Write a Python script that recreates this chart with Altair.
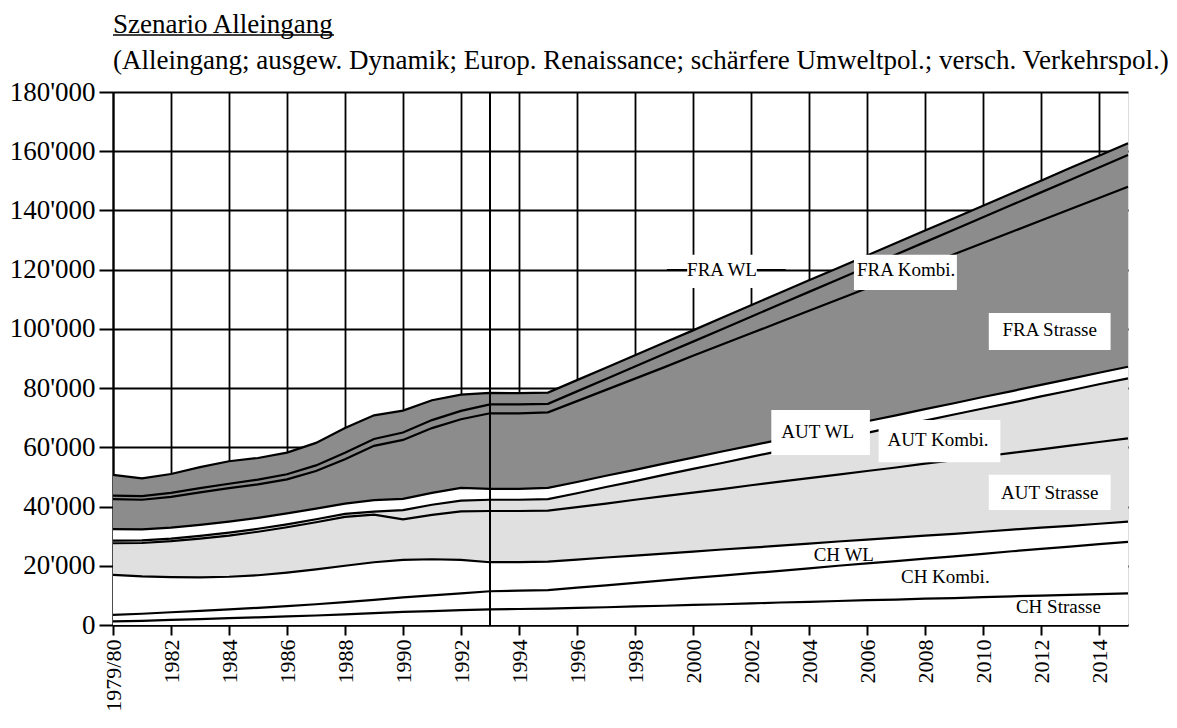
import altair as alt
import pandas as pd

years = list(range(1980, 2016))
series_names = ["CH Strasse", "CH Kombi.", "CH WL", "AUT Strasse", "AUT Kombi.",
                "AUT WL", "FRA Strasse", "FRA Kombi.", "FRA WL"]

# values in thousand tonnes, 1979/80 ... 2015
ch_strasse = [1.2, 1.4, 1.7, 2.0, 2.3, 2.6, 2.9, 3.2, 3.6, 4.0, 4.4, 4.7, 5.0, 5.3, 5.4, 5.5,
              5.8, 6.0, 6.3, 6.5, 6.8, 7.0, 7.3, 7.6, 7.8, 8.1, 8.4, 8.6, 8.9, 9.1, 9.4, 9.7,
              9.9, 10.2, 10.4, 10.7]
ch_kombi = [2.2, 2.4, 2.6, 2.8, 3.0, 3.2, 3.5, 3.8, 4.1, 4.5, 4.9, 5.3, 5.7, 6.1, 6.2, 6.3,
            6.8, 7.4, 7.9, 8.6, 9.1, 9.7, 10.2, 10.7, 11.3, 11.9, 12.4, 13.0, 13.5, 14.1, 14.6,
            15.2, 15.8, 16.3, 16.9, 17.4]
ch_wl = [13.5, 12.6, 11.9, 11.3, 11.0, 11.0, 11.3, 11.8, 12.3, 12.7, 12.7, 12.2, 11.3, 9.8,
         9.6, 9.6, 9.5, 9.4, 9.2, 9.0, 8.9, 8.8, 8.6, 8.5, 8.4, 8.2, 8.0, 7.9, 7.8, 7.6, 7.5,
         7.3, 7.2, 7.0, 6.9, 6.8]
aut_strasse = [10.7, 11.3, 12.1, 13.1, 13.9, 14.7, 15.3, 15.9, 16.5, 16.1, 13.7, 15.0, 16.4,
               17.3, 17.3, 17.2, 17.7, 18.2, 18.9, 19.4, 19.9, 20.4, 21.1, 21.6, 22.1, 22.6,
               23.2, 23.7, 24.3, 24.9, 25.4, 25.9, 26.4, 27.1, 27.6, 28.1]
aut_kombi = [0.9, 0.9, 0.9, 0.9, 1.0, 1.0, 1.0, 1.0, 1.0, 1.0, 3.1, 3.4, 3.6, 3.8, 3.8, 3.9,
             4.7, 5.6, 6.3, 7.2, 8.0, 8.8, 9.6, 10.4, 11.3, 12.1, 12.9, 13.8, 14.5, 15.4, 16.2,
             17.0, 17.9, 18.6, 19.5, 20.3]
aut_wl = [3.9, 3.7, 3.7, 3.7, 3.7, 3.7, 3.7, 3.6, 3.5, 3.9, 3.8, 4.0, 4.3, 3.7, 3.7, 3.8,
          3.8, 3.8, 3.8, 3.8, 3.8, 3.9, 3.8, 3.8, 3.8, 3.8, 3.9, 3.8, 3.9, 3.8, 3.9, 3.9,
          3.9, 3.9, 3.9, 3.9]
fra_strasse = [10.1, 10.0, 10.4, 11.0, 11.3, 11.3, 11.5, 12.7, 15.0, 18.3, 19.9, 21.9, 23.2,
               25.5, 25.5, 25.5, 27.3, 29.0, 30.8, 32.5, 34.4, 36.1, 37.9, 39.7, 41.4, 43.2,
               44.9, 46.7, 48.4, 50.3, 52.0, 53.8, 55.5, 57.3, 59.0, 60.8]
fra_kombi = [1.2, 1.2, 1.3, 1.4, 1.5, 1.6, 1.7, 1.9, 2.2, 2.3, 2.5, 2.7, 2.8, 3.0, 3.0, 2.9,
             3.3, 3.7, 4.1, 4.5, 4.8, 5.2, 5.6, 6.0, 6.4, 6.8, 7.2, 7.6, 8.0, 8.3, 8.7, 9.1,
             9.5, 9.9, 10.3, 10.7]
fra_wl = [7.0, 6.0, 6.4, 7.1, 7.6, 7.3, 7.3, 7.6, 8.3, 8.0, 7.4, 6.7, 5.5, 3.9, 3.8, 3.8,
          3.8, 3.8, 3.8, 3.8, 3.8, 3.9, 3.9, 3.9, 3.9, 3.9, 3.9, 3.9, 3.9, 3.9, 3.9, 3.9,
          3.9, 4.0, 4.0, 4.0]

all_series = [ch_strasse, ch_kombi, ch_wl, aut_strasse, aut_kombi, aut_wl,
              fra_strasse, fra_kombi, fra_wl]
fills = ["#ffffff", "#ffffff", "#ffffff", "#e0e0e0", "#e0e0e0", "#ffffff",
         "#8c8c8c", "#8c8c8c", "#8c8c8c"]

tick_years = years
y_ticks = list(range(0, 180001, 20000))
marker_year = [1993]

# annotation labels
label_text = ["FRA WL", "FRA Kombi.", "FRA Strasse", "AUT WL", "AUT Kombi.", "AUT Strasse",
              "CH WL", "CH Kombi.", "CH Strasse"]
label_year = [2001.0, 2007.35, 2012.3, 2004.3, 2008.45, 2012.3, 2005.2, 2008.7, 2012.6]
label_value = [119900, 119900, 99600, 65200, 62500, 44600, 23600, 16200, 6100]
box_x1 = [1999.8, 2005.55, 2010.2, 2002.7, 2006.4, 2010.2]
box_x2 = [2002.2, 2009.1, 2014.4, 2006.1, 2010.6, 2014.4]
box_y1 = [125000, 125000, 105400, 72600, 69200, 50700]
box_y2 = [113800, 113100, 92900, 57400, 55000, 38800]
leader_x1 = [1999.1]
leader_x2 = [2003.2]
leader_y = [119900]

rows = []
for i, (name, vals) in enumerate(zip(series_names, all_series)):
    for yr, v in zip(years, vals):
        rows.append({"year": yr, "series": name, "order": i, "value": v * 1000})
df = pd.DataFrame(rows)

labels_df = pd.DataFrame({"text": label_text, "year": label_year, "value": label_value})
boxes_df = pd.DataFrame({"x1": box_x1, "x2": box_x2, "y1": box_y1, "y2": box_y2})
leader_df = pd.DataFrame({"x1": leader_x1, "x2": leader_x2, "y": leader_y})
marker_df = pd.DataFrame({"year": marker_year})

FONT = "Liberation Serif"

x_scale = alt.Scale(domain=[1980, 2015], nice=False, zero=False)
y_scale = alt.Scale(domain=[0, 180000], nice=False)

x_axis = alt.Axis(
    values=tick_years,
    labelExpr="datum.value == 1980 ? '1979/80' : (datum.value % 2 == 0 && datum.value < 2015 ? toString(datum.value) : '')",
    labelAngle=270, labelFont=FONT, labelFontSize=22, labelColor="black",
    labelPadding=4, labelOverlap=False, labelFlush=False,
    tickColor="black", tickSize=10, tickWidth=2,
    domainColor="black", domainWidth=2,
    gridColor="black", gridWidth=1.8, gridOpacity=1,
    title=None,
)
y_axis = alt.Axis(
    values=y_ticks,
    labelExpr="replace(format(datum.value, ','), ',', \"'\")",
    labelFont=FONT, labelFontSize=27, labelColor="black", labelPadding=4,
    tickColor="black", tickSize=14, tickWidth=2,
    domainColor="black", domainWidth=2,
    gridColor="black", gridWidth=1.8, gridOpacity=1,
    title=None,
)

base = alt.Chart(df).transform_stack(
    stack="value", groupby=["year"], as_=["y0", "y1"],
    sort=[alt.SortField("order", order="ascending")],
)

areas = base.mark_area(interpolate="linear").encode(
    x=alt.X("year:Q", scale=x_scale, axis=x_axis),
    y=alt.Y("y1:Q", scale=y_scale, axis=y_axis),
    y2="y0:Q",
    color=alt.Color("series:N", scale=alt.Scale(domain=series_names, range=fills), legend=None),
    detail="series:N",
)

lines = base.mark_line(color="black", strokeWidth=2.2, interpolate="linear").encode(
    x=alt.X("year:Q", scale=x_scale),
    y=alt.Y("y1:Q", scale=y_scale),
    detail="series:N",
)

marker = alt.Chart(marker_df).mark_rule(color="black", strokeWidth=2).encode(
    x=alt.X("year:Q", scale=x_scale),
)

leader = alt.Chart(leader_df).mark_rule(color="black", strokeWidth=1.8).encode(
    x=alt.X("x1:Q", scale=x_scale), x2="x2:Q",
    y=alt.Y("y:Q", scale=y_scale),
)

boxes = alt.Chart(boxes_df).mark_rect(color="white").encode(
    x=alt.X("x1:Q", scale=x_scale), x2="x2:Q",
    y=alt.Y("y1:Q", scale=y_scale), y2="y2:Q",
)

texts = alt.Chart(labels_df).mark_text(
    font=FONT, fontSize=19, color="black", align="center", baseline="middle"
).encode(
    x=alt.X("year:Q", scale=x_scale),
    y=alt.Y("value:Q", scale=y_scale),
    text="text:N",
)

underline = alt.Chart(alt.Data(values=[{"a": 1}])).mark_rule(color="black", strokeWidth=1.5).encode(
    x=alt.value(0), x2=alt.value(221), y=alt.value(-57),
)

chart = alt.layer(areas, lines, marker, leader, boxes, texts, underline).properties(
    width=1015,
    height=533,
    title=alt.TitleParams(
        text="Szenario Alleingang",
        subtitle="(Alleingang; ausgew. Dynamik; Europ. Renaissance; schärfere Umweltpol.; versch. Verkehrspol.)",
        anchor="start", frame="group", font=FONT, fontSize=27, fontWeight="normal",
        color="black", subtitleFont=FONT, subtitleFontSize=27, subtitleColor="black",
        subtitlePadding=9, offset=14, dy=55,
    ),
    autosize=alt.AutoSizeParams(type="none"),
    padding={"left": 105, "top": 84, "right": 40, "bottom": 90},
).configure_view(stroke=None).configure(background="white")

chart.save("out.html", embed_options={"renderer": "svg", "actions": False})
